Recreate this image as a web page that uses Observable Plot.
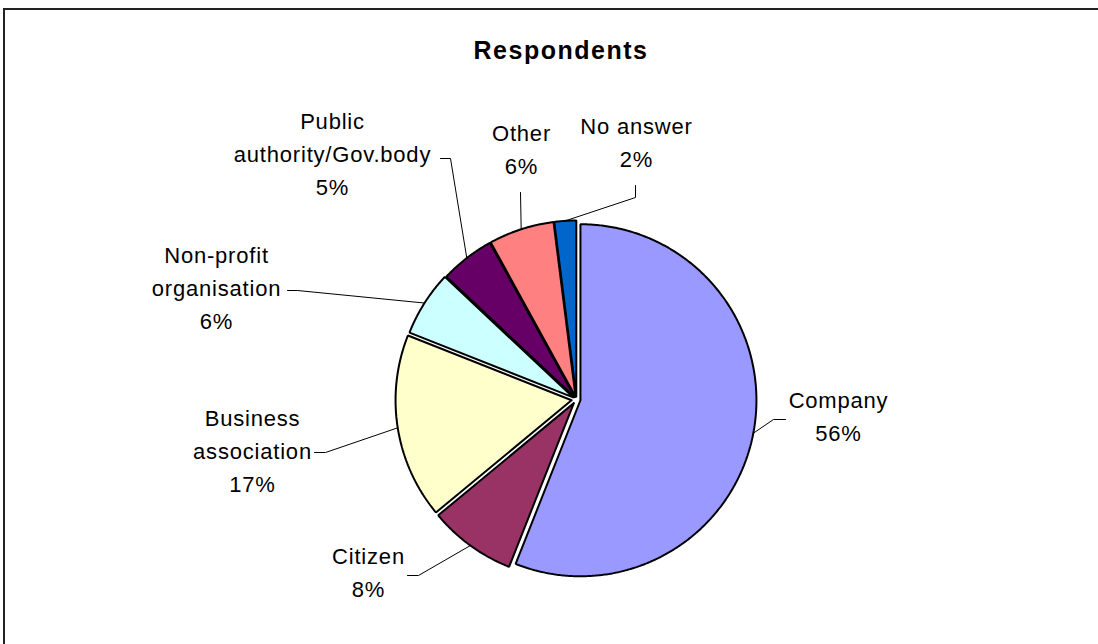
<!DOCTYPE html>
<html>
<head>
<meta charset="utf-8">
<script src="https://cdn.jsdelivr.net/npm/d3@7"></script>
<script src="https://cdn.jsdelivr.net/npm/@observablehq/plot@0.6"></script>
<style>
  html, body { margin: 0; padding: 0; background: #fff; overflow: hidden; }
  #wrap { position: relative; width: 1098px; height: 644px; overflow: hidden; font-family: "Liberation Sans", Arial, sans-serif; }
  #frame { position: absolute; left: 3px; top: 8px; width: 1200px; height: 700px; border-top: 2px solid #222; border-left: 2px solid #222; }
  #title { position: absolute; left: 0; top: 38px; width: 1122px; text-align: center; font-weight: bold; font-size: 25px; line-height: 25px; letter-spacing: 1.5px; color: #000; }
  #chart { position: absolute; left: 0; top: 0; }
  #chart text { letter-spacing: 0.8px; }
</style>
</head>
<body>
<div id="wrap">
  <div id="frame"></div>
  <div id="chart"></div>
  <div id="title">Respondents</div>
</div>
<script>
// ---- data ----
const categories = ["Company", "Citizen", "Business association", "Non-profit organisation", "Public authority/Gov.body", "Other", "No answer"];
const shares = [56, 8, 17, 6, 5, 6, 2];
const labelLines = [["Company"], ["Citizen"], ["Business", "association"], ["Non-profit", "organisation"], ["Public", "authority/Gov.body"], ["Other"], ["No answer"]];
const colors = ["#9999FF", "#993366", "#FFFFCC", "#CCFFFF", "#660066", "#FF8080", "#0066CC"];

// ---- layout (pixels) ----
const W = 1098, H = 644;
const cx = 576, cy = 399, R = 176;
const explode = [4, 4.5, 5, 4, 3, 3, 3];
const labelPos = [[838, 400], [368, 556], [252, 418], [216, 255], [332, 121], [521, 133], [636, 126]];
const leaderStub = [
  [[785, 419], [773, 419]],
  [[407, 575], [418, 575]],
  [[314, 452], [325, 452]],
  [[287, 290], [297, 290]],
  [[440, 158], [450, 158]],
  [[520, 192]],
  [[635, 185], [635, 197]]
];
const fontSize = 22, lineH = 33;

const rad = d => d * Math.PI / 180;
const total = d3.sum(shares);
let cum = 0;
const slices = categories.map((c, i) => {
  const a0 = cum / total * 360;
  cum += shares[i];
  const a1 = cum / total * 360;
  const mid = (a0 + a1) / 2;
  const ox = cx + explode[i] * Math.sin(rad(mid));
  const oy = cy - explode[i] * Math.cos(rad(mid));
  const pts = [{x: ox, y: oy}];
  const n = Math.max(2, Math.ceil((a1 - a0) / 0.5));
  for (let k = 0; k <= n; k++) {
    const a = a0 + (a1 - a0) * k / n;
    pts.push({x: ox + R * Math.sin(rad(a)), y: oy - R * Math.cos(rad(a))});
  }
  pts.push({x: ox, y: oy});
  const edge = {x: ox + R * Math.sin(rad(mid)), y: oy - R * Math.cos(rad(mid))};
  const leader = leaderStub[i].map(([x, y]) => ({x, y})).concat([edge]);
  const text = labelLines[i].concat([shares[i] + "%"]).join("\n");
  return {c, pts, leader, text, color: colors[i], lx: labelPos[i][0], ly: labelPos[i][1] - 0.71 * fontSize};
});

const marks = [];
slices.forEach(s => {
  marks.push(Plot.line(s.pts, {x: "x", y: "y", fill: s.color, stroke: "#000", strokeWidth: 2, strokeLinejoin: "miter", curve: "linear"}));
});
slices.forEach(s => {
  marks.push(Plot.line(s.leader, {x: "x", y: "y", stroke: "#000", strokeWidth: 1}));
});
marks.push(Plot.text(slices, {
  x: "lx", y: "ly", text: "text", textAnchor: "middle", lineAnchor: "top",
  lineHeight: lineH / fontSize, fontSize, fill: "#000",
  fontFamily: "Liberation Sans, Arial, sans-serif"
}));

const chart = Plot.plot({
  width: W, height: H,
  margin: 0,
  x: {domain: [0, W], range: [0, W], axis: null},
  y: {domain: [0, H], range: [0, H], axis: null},
  style: {background: "transparent", overflow: "visible"},
  marks
});
document.getElementById("chart").appendChild(chart);
</script>
</body>
</html>
